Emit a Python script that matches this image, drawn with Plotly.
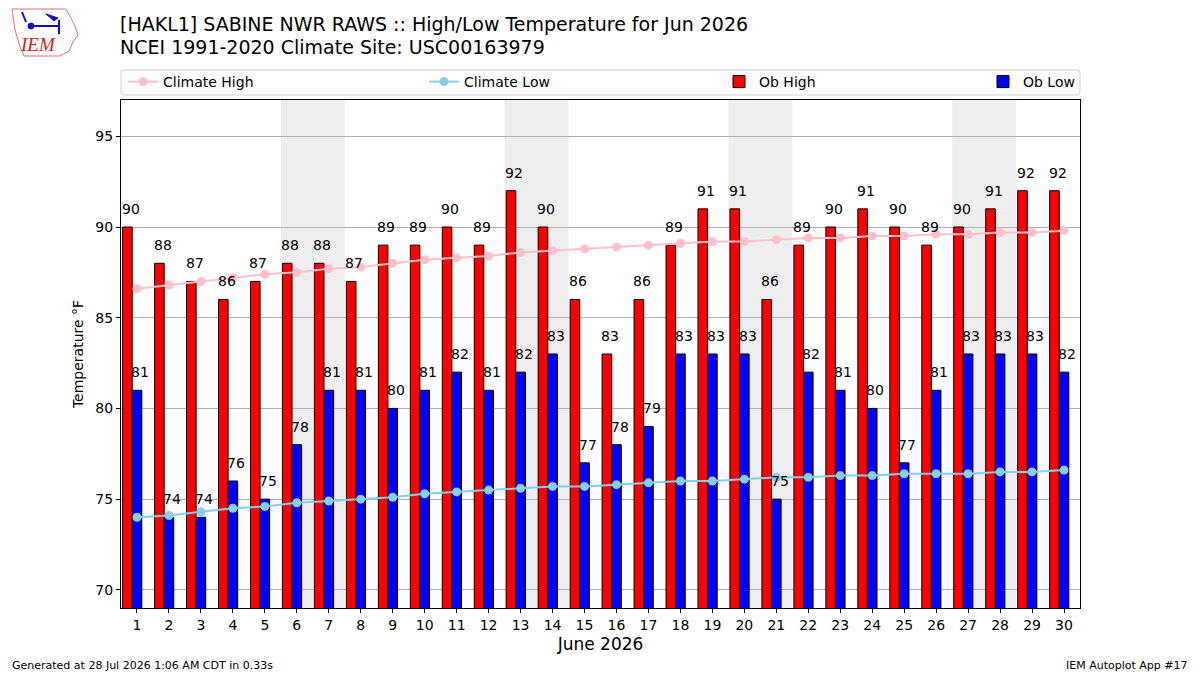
import datetime
import plotly.graph_objects as go

# ---------------- data ----------------
days = list(range(1, 31))
ob_high = [90, 88, 87, 86, 87, 88, 88, 87, 89, 89, 90, 89, 92, 90, 86,
           83, 86, 89, 91, 91, 86, 89, 90, 91, 90, 89, 90, 91, 92, 92]
ob_low = [81, 74, 74, 76, 75, 78, 81, 81, 80, 81, 82, 81, 82, 83, 77,
          78, 79, 83, 83, 83, 75, 82, 81, 80, 77, 81, 83, 83, 83, 82]
clim_high = [86.6, 86.8, 87.0, 87.2, 87.4, 87.5, 87.7, 87.8, 88.0, 88.2,
             88.3, 88.4, 88.6, 88.7, 88.8, 88.9, 89.0, 89.1, 89.2, 89.2,
             89.3, 89.4, 89.4, 89.5, 89.5, 89.6, 89.6, 89.7, 89.7, 89.8]
clim_low = [74.0, 74.1, 74.3, 74.5, 74.6, 74.8, 74.9, 75.0, 75.1, 75.3,
            75.4, 75.5, 75.6, 75.7, 75.7, 75.8, 75.9, 76.0, 76.0, 76.1,
            76.2, 76.2, 76.3, 76.3, 76.4, 76.4, 76.4, 76.5, 76.5, 76.6]
year, month = 2026, 6

FONT = "DejaVu Sans"
W, H = 1200, 675
L, R, T, B = 121, 1080, 100, 608


def px(x):
    return (x - L) / (R - L)


def py(y):
    return (B - y) / (B - T)


fig = go.Figure()

fig.add_trace(go.Scatter(
    x=days, y=clim_high, mode="lines+markers", name="Climate High",
    line=dict(color="pink", width=2), marker=dict(color="pink", size=9),
    legendwidth=256))
fig.add_trace(go.Scatter(
    x=days, y=clim_low, mode="lines+markers", name="Climate Low",
    line=dict(color="skyblue", width=2), marker=dict(color="skyblue", size=9),
    legendwidth=250))
fig.add_trace(go.Bar(
    x=days, y=ob_high, name="Ob High", offset=-0.45, width=0.3,
    marker=dict(color="red", line=dict(color="black", width=1)),
    legendwidth=219))
fig.add_trace(go.Bar(
    x=days, y=ob_low, name="Ob Low", offset=-0.15, width=0.3,
    marker=dict(color="blue", line=dict(color="black", width=1)),
    legendwidth=52))

annotations = []
for d, v in zip(days, ob_high):
    annotations.append(dict(x=d - 0.45, y=v + 1, text=str(v), showarrow=False,
                            xanchor="left", yanchor="middle", xshift=-3,
                            font=dict(family=FONT, size=14, color="black")))
for d, v in zip(days, ob_low):
    annotations.append(dict(x=d - 0.15, y=v + 1, text=str(v), showarrow=False,
                            xanchor="left", yanchor="middle", xshift=-3,
                            font=dict(family=FONT, size=14, color="black")))

# titles and footer
annotations.append(dict(xref="paper", yref="paper", x=px(118), y=py(24),
                        text="[HAKL1] SABINE NWR RAWS :: High/Low Temperature for Jun 2026",
                        showarrow=False, xanchor="left", yanchor="middle",
                        font=dict(family=FONT, size=19, color="black")))
annotations.append(dict(xref="paper", yref="paper", x=px(118), y=py(47),
                        text="NCEI 1991-2020 Climate Site: USC00163979",
                        showarrow=False, xanchor="left", yanchor="middle",
                        font=dict(family=FONT, size=19, color="black")))
annotations.append(dict(xref="paper", yref="paper", x=px(10), y=py(665),
                        text="Generated at 28 Jul 2026 1:06 AM CDT in 0.33s",
                        showarrow=False, xanchor="left", yanchor="middle",
                        font=dict(family=FONT, size=11, color="black")))
annotations.append(dict(xref="paper", yref="paper", x=px(1190), y=py(665),
                        text="IEM Autoplot App #17",
                        showarrow=False, xanchor="right", yanchor="middle",
                        font=dict(family=FONT, size=11, color="black")))
# logo text
annotations.append(dict(xref="paper", yref="paper", x=px(38), y=py(45),
                        text="<i>IEM</i>", showarrow=False,
                        xanchor="center", yanchor="middle",
                        font=dict(family="Liberation Serif", size=19, color="#d42020")))

shapes = []
# weekend shading
for d in days:
    if datetime.date(year, month, d).weekday() == 5:
        shapes.append(dict(type="rect", xref="x", yref="paper",
                           x0=d - 0.5, x1=d + 1.5, y0=0, y1=1,
                           fillcolor="#eeeeee", line=dict(width=0),
                           layer="below"))

# legend frame (decoration, spans the axes width)
r = 3
lx0, lx1, ly0, ly1 = 121, 1080, 70, 95
frame = (f"M {px(lx0 + r):.5f},{py(ly0):.5f} L {px(lx1 - r):.5f},{py(ly0):.5f} "
         f"Q {px(lx1):.5f},{py(ly0):.5f} {px(lx1):.5f},{py(ly0 + r):.5f} "
         f"L {px(lx1):.5f},{py(ly1 - r):.5f} "
         f"Q {px(lx1):.5f},{py(ly1):.5f} {px(lx1 - r):.5f},{py(ly1):.5f} "
         f"L {px(lx0 + r):.5f},{py(ly1):.5f} "
         f"Q {px(lx0):.5f},{py(ly1):.5f} {px(lx0):.5f},{py(ly1 - r):.5f} "
         f"L {px(lx0):.5f},{py(ly0 + r):.5f} "
         f"Q {px(lx0):.5f},{py(ly0):.5f} {px(lx0 + r):.5f},{py(ly0):.5f} Z")
shapes.append(dict(type="path", xref="paper", yref="paper", path=frame,
                   line=dict(color="#d0d0d0", width=1), layer="below"))

# logo outline (decoration)
outline = [(12, 9), (66, 9), (70, 16), (75, 26), (78, 35), (73, 42),
           (69, 51), (60, 56), (24, 56), (20, 47), (15, 30), (12, 9)]
path = "M " + " L ".join(f"{px(a):.4f},{py(b):.4f}" for a, b in outline) + " Z"
shapes.append(dict(type="path", xref="paper", yref="paper", path=path,
                   line=dict(color="#e07070", width=1)))
# station glyph
shapes.append(dict(type="line", xref="paper", yref="paper",
                   x0=px(32), y0=py(26), x1=px(60), y1=py(26),
                   line=dict(color="#1010c0", width=2)))
shapes.append(dict(type="circle", xref="paper", yref="paper",
                   x0=px(28), y0=py(23), x1=px(34), y1=py(29),
                   fillcolor="#1010c0", line=dict(color="#1010c0", width=1)))
shapes.append(dict(type="line", xref="paper", yref="paper",
                   x0=px(59), y0=py(20), x1=px(59), y1=py(34),
                   line=dict(color="#1010c0", width=2)))
shapes.append(dict(type="line", xref="paper", yref="paper",
                   x0=px(22), y0=py(12), x1=px(26), y1=py(22),
                   line=dict(color="#1010c0", width=2)))
shapes.append(dict(type="path", xref="paper", yref="paper",
                   path=f"M {px(46):.4f},{py(14):.4f} L {px(58):.4f},{py(18):.4f} "
                        f"L {px(54):.4f},{py(21):.4f} Z",
                   fillcolor="#1010c0", line=dict(color="#1010c0", width=1)))

fig.update_layout(
    width=W, height=H,
    margin=dict(l=L, r=W - R, t=T, b=H - B, pad=0),
    paper_bgcolor="white", plot_bgcolor="white",
    font=dict(family=FONT, size=14, color="black"),
    barmode="overlay",
    showlegend=True,
    legend=dict(orientation="h", x=px(123), xanchor="left", y=py(66),
                yanchor="top", borderwidth=0, bgcolor="rgba(0,0,0,0)",
                font=dict(family=FONT, size=14), traceorder="normal",
                itemwidth=30, tracegroupgap=0),
    annotations=annotations,
    shapes=shapes,
    xaxis=dict(range=[0.5, 30.5], tickmode="array", tickvals=days,
               ticktext=[str(d) for d in days], ticks="outside", ticklen=4,
               tickcolor="black", showgrid=False, showline=True,
               linecolor="black", linewidth=1, mirror=True, zeroline=False,
               title=dict(text="June 2026", font=dict(family=FONT, size=17),
                          standoff=6),
               tickfont=dict(family=FONT, size=14)),
    yaxis=dict(range=[69, 97], tickmode="linear", tick0=70, dtick=5,
               ticks="outside", ticklen=4, tickcolor="black",
               showgrid=True, gridcolor="#b0b0b0", gridwidth=1,
               showline=True, linecolor="black", linewidth=1, mirror=True,
               zeroline=False,
               title=dict(text="Temperature °F", font=dict(family=FONT, size=14),
                          standoff=8),
               tickfont=dict(family=FONT, size=14)),
)

fig.write_html("out.html")
